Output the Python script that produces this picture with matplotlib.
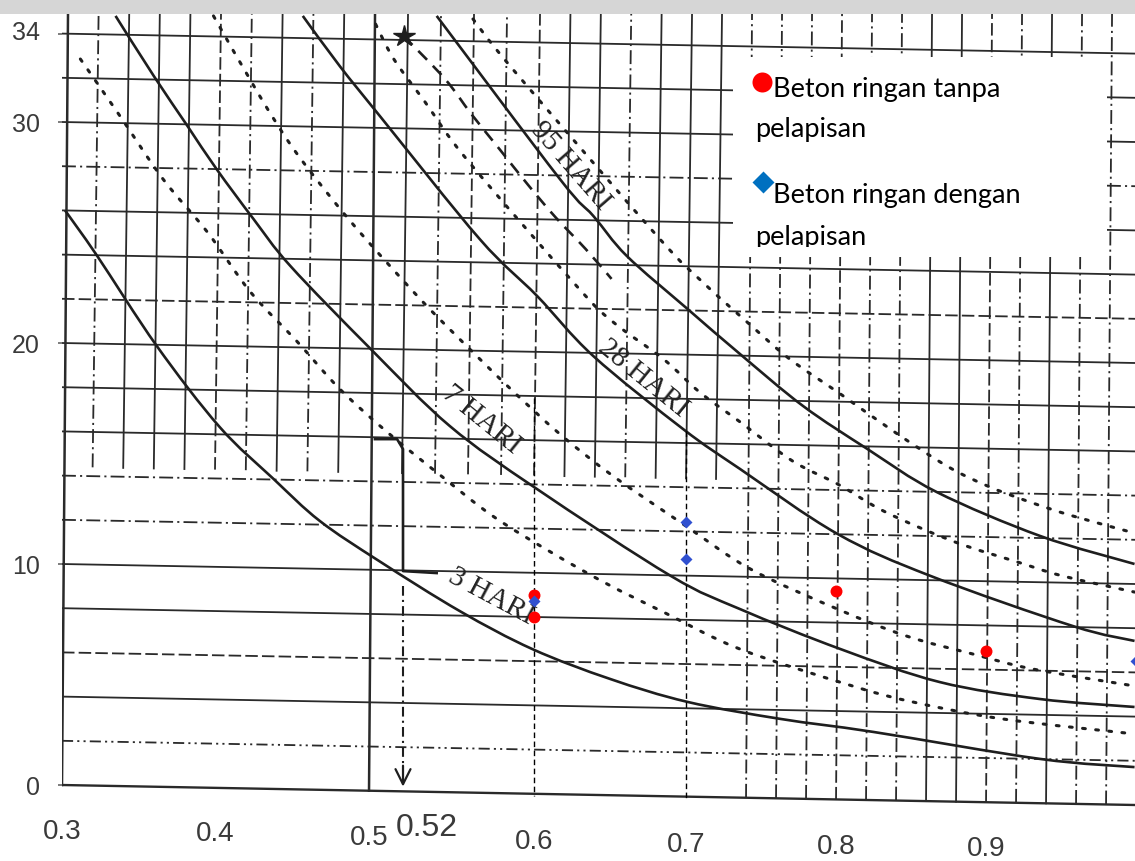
import numpy as np
import matplotlib
matplotlib.use("Agg")
import matplotlib.pyplot as plt
from matplotlib.patches import Rectangle, PathPatch
from matplotlib.path import Path
from matplotlib.transforms import ScaledTranslation, Bbox, TransformedBbox

plt.rcParams['lines.scale_dashes'] = False

# ---------------- data ----------------
# x = faktor air semen, y = kuat tekan
hari3_x = [0.302, 0.323, 0.362, 0.403, 0.438, 0.468, 0.506, 0.555, 0.599, 0.650, 0.701, 0.763, 0.825, 0.936, 0.999]
hari3_y = [26.0, 23.94, 19.86, 16.2, 13.85, 11.95, 10.14, 7.87, 6.15, 4.80, 3.76, 2.99, 2.40, 1.18, 0.81]
hari7_x = [0.335, 0.360, 0.382, 0.401, 0.425, 0.449, 0.501, 0.549, 0.602, 0.690, 0.736, 0.803, 0.869, 0.936, 0.999]
hari7_y = [34.80, 32.08, 29.82, 27.87, 25.61, 23.48, 19.73, 16.24, 13.39, 9.46, 7.96, 6.15, 4.66, 3.89, 3.53]
hari28_x = [0.457, 0.481, 0.507, 0.567, 0.602, 0.639, 0.698, 0.736, 0.801, 0.863, 0.958, 0.999]
hari28_y = [34.80, 32.53, 30.23, 24.71, 22.13, 19.41, 16.11, 14.30, 11.36, 9.46, 7.19, 6.52]
hari95_x = [0.541, 0.617, 0.639, 0.661, 0.701, 0.736, 0.778, 0.821, 0.867, 0.936, 0.999]
hari95_y = [34.80, 27.42, 25.75, 23.94, 21.54, 19.50, 17.15, 15.20, 13.26, 11.27, 10.00]

dot3_x = [0.312, 0.337, 0.366, 0.395, 0.423, 0.453, 0.481, 0.511, 0.543, 0.575, 0.611, 0.648, 0.685, 0.736, 0.811, 0.851, 0.911, 0.999]
dot3_y = [32.85, 30.36, 27.42, 25.02, 22.31, 20.09, 17.92, 15.97, 14.03, 12.17, 10.54, 9.10, 7.83, 6.15, 4.48, 3.76, 2.99, 2.31]
dot7_x = [0.399, 0.429, 0.451, 0.477, 0.499, 0.531, 0.553, 0.584, 0.617, 0.652, 0.698, 0.743, 0.801, 0.847, 0.891, 0.931, 0.999]
dot7_y = [34.80, 31.18, 28.78, 26.43, 24.62, 21.99, 20.32, 18.05, 15.88, 13.98, 11.81, 9.77, 7.96, 6.74, 5.93, 5.25, 4.48]
dot28_x = [0.504, 0.515, 0.534, 0.559, 0.628, 0.652, 0.685, 0.709, 0.736, 0.771, 0.801, 0.829, 0.858, 0.887, 0.921, 0.951, 0.999]
dot28_y = [34.43, 32.85, 30.90, 28.33, 22.58, 20.95, 19.28, 17.78, 16.43, 14.66, 13.62, 12.49, 11.58, 10.81, 10.09, 9.46, 8.73]
dot95_x = [0.563, 0.587, 0.681, 0.711, 0.743, 0.769, 0.803, 0.838, 0.874, 0.901, 0.929, 0.958, 0.999]
dot95_y = [34.66, 32.40, 24.84, 22.76, 20.81, 19.28, 17.69, 16.02, 14.43, 13.53, 12.81, 12.17, 11.40]

hand_x = [0.521, 0.546, 0.562, 0.579, 0.596, 0.614, 0.634, 0.651]
hand_y = [33.89, 31.95, 30.36, 28.78, 27.19, 25.70, 24.25, 22.90]

bracket_x = [0.5036, 0.517, 0.5206, 0.5206, 0.541]
bracket_y = [15.65, 15.65, 15.2, 9.68, 9.59]
wc_target = 0.5206
wc_arrow_top = 9.0

curve_labels = ['3 HARI', '7 HARI', '28 HARI', '95 HARI']
label_x = [0.5740, 0.5679, 0.6717, 0.6243]
label_y = [8.55, 16.56, 18.46, 28.05]
label_rot = [-28, -39, -39, -49]

series_labels = ['Beton ringan tanpa pelapisan', 'Beton ringan dengan pelapisan']
red_x = [0.6, 0.6, 0.8, 0.9]
red_y = [8.60, 7.60, 8.78, 6.06]
blue_x = [0.6, 0.7, 0.7, 1.0]
blue_y = [8.33, 11.90, 10.23, 5.61]
drop_x = [0.6, 0.7]
drop_top = [17.5, 16.0]

xticks = [0.3, 0.4, 0.5, 0.52, 0.6, 0.7, 0.8, 0.9]
xticklabels = ['0.3', '0.4', '0.5', '0.52', '0.6', '0.7', '0.8', '0.9']
yticks = [0, 10, 20, 30, 34]
yticklabels = ['0', '10', '20', '30', '34']

# ---------------- scanned (non-uniform) x scale ----------------
XK = [0.2, 0.3, 0.4, 0.5, 0.6, 0.7, 0.8, 0.9, 1.0, 1.1]
PK = [-91, 62, 215, 369, 534, 686, 836, 986, 1136, 1286]
def fwd(x):
    return np.interp(np.asarray(x, float), XK, PK)
def inv(p):
    return np.interp(np.asarray(p, float), PK, XK)

W, H = 1135, 862
fig = plt.figure(figsize=(W / 100, H / 100), dpi=100)
fig.patch.set_facecolor('white')
fig.patches.append(Rectangle((0, 1 - 15 / H), 1, 15 / H, transform=fig.transFigure,
                             facecolor='#d6d6d6', edgecolor='none', zorder=0))
ax = fig.add_axes([62 / W, (H - 808) / H, 1073 / W, 793 / H])
ax.set_xscale('function', functions=(fwd, inv))
XMIN, XMAX = 0.3, 0.9993
YMIN, YMAX = -22 / 22.1, 771 / 22.1
ax.set_xlim(XMIN, XMAX)
ax.set_ylim(YMIN, YMAX)
for s in ax.spines.values():
    s.set_visible(False)

INK = '#1e1e1e'
GRID = '#2a2a2a'
TILT = 0.905      # scan skew: horizontal lines drop this much across the width

def zline(x):
    return -TILT * (fwd(x) - fwd(XMIN)) / (fwd(XMAX) - fwd(XMIN))

def smooth_curve(xs, ys, **kw):
    """Smooth (Catmull-Rom) path through the read points, drawn in scaled space."""
    P = np.column_stack([fwd(xs), np.asarray(ys, float)])
    n = len(P)
    verts, codes = [P[0]], [Path.MOVETO]
    for i in range(n - 1):
        p0 = P[i - 1] if i > 0 else P[i]
        p1, p2 = P[i], P[i + 1]
        p3 = P[i + 2] if i + 2 < n else P[i + 1]
        verts += [p1 + (p2 - p0) / 6, p2 - (p3 - p1) / 6, p2]
        codes += [Path.CURVE4] * 3
    patch = PathPatch(Path(verts, codes), transform=ax.transLimits + ax.transAxes,
                      fill=False, **kw)
    ax.add_patch(patch)
    return patch

styles = {'s': '-', 'd': (0, (9, 3)), 'dd': (0, (10, 3, 1.5, 3)),
          'ddd': (0, (8, 3, 1.5, 3, 1.5, 3))}

# horizontal grid lines
h_levels = np.arange(0, 35, 2)
h_style = ['s', 'ddd', 's', 'd', 's', 's', 'dd', 'dd', 's', 's', 's', 'd', 's', 's', 'dd', 's', 's', 's']
for lev, st in zip(h_levels, h_style):
    lw = 1.7 if lev == 0 else 1.3
    ax.plot([XMIN, XMAX], [lev, lev - TILT], color=GRID, lw=lw, ls=styles[st], zorder=1)

# vertical grid lines
v_levels = np.round(np.arange(0.30, 0.99, 0.02), 2)
v_style = ['s', 'dd', 's', 's', 's', 'd', 'dd', 's', 'dd', 's', 's', 's', 'dd', 'd', 'dd', 'd',
           's', 's', 'dd', 's', 's', 's', 'dd', 'dd', 'dd', 'd', 'dd', 'dd', 's', 's', 'd', 'dd',
           's', 'dd', 'dd']
for xv, st in zip(v_levels, v_style):
    full = xv in (0.3, 0.5) or xv >= 0.739
    ybot = zline(xv) if full else 14.4 + zline(xv)
    xtop = inv(fwd(xv) + 6)
    lw = 1.8 if xv in (0.3, 0.5) else 1.3
    ax.plot([xv, xtop], [ybot, YMAX], color=GRID, lw=lw, ls=styles[st], zorder=1)

# curves
for cx, cy in [(hari3_x, hari3_y), (hari7_x, hari7_y), (hari28_x, hari28_y), (hari95_x, hari95_y)]:
    smooth_curve(cx, cy, edgecolor=INK, lw=1.9, zorder=3)
for cx, cy in [(dot3_x, dot3_y), (dot7_x, dot7_y), (dot28_x, dot28_y), (dot95_x, dot95_y)]:
    smooth_curve(cx, cy, edgecolor=INK, lw=2.2, linestyle=(0, (2.0, 7.5)), capstyle='round', zorder=3)
smooth_curve(hand_x, hand_y, edgecolor=INK, lw=1.9, linestyle=(0, (9, 6)), zorder=3)
ax.plot([hand_x[0]], [hand_y[0]], marker='*', ms=16, color=INK, zorder=3)

# 0.52 annotation
ax.plot(bracket_x, bracket_y, color=INK, lw=1.9, zorder=3, solid_joinstyle='round')
ax.plot([wc_target, wc_target], [wc_arrow_top, 0.9], color=INK, lw=1.5, ls=(0, (7, 3, 1.5, 3)), zorder=3)
ax.annotate('', xy=(wc_target, -0.2), xytext=(wc_target, 1.0),
            arrowprops=dict(arrowstyle='->', lw=1.6, color=INK, mutation_scale=27), zorder=3)

# curve labels
for t, lx, ly, r in zip(curve_labels, label_x, label_y, label_rot):
    ax.text(lx, ly, t, rotation=r, rotation_mode='anchor', ha='center', va='center',
            fontsize=21, family='Liberation Serif', color='#222222', zorder=4)

# drop lines
for dx_, dt in zip(drop_x, drop_top):
    ax.plot([dx_, dx_], [dt, zline(dx_) - 0.1], color='black', lw=1.0, ls=(0, (4, 2.5)), zorder=5)

# data points
RED = '#FF0000'
BLUE_PT = '#3050D0'
BLUE_LG = '#0070C0'
ax.plot(red_x, red_y, 'o', color=RED, ms=8.6, mec='none', zorder=6)
ax.plot(blue_x, blue_y, 'D', color=BLUE_PT, ms=6.2, mec='none', zorder=7)

# legend
ax.add_patch(Rectangle((0.6254, 0.6936), 0.3485, 0.2522, transform=ax.transAxes,
                       facecolor='white', edgecolor='none', zorder=10))
lg_font = dict(family='Lato', fontsize=19.5, color='black', va='baseline', zorder=11,
               transform=ax.transAxes)
l1a, l1b = series_labels[0].rsplit(' ', 1)
l2a, l2b = series_labels[1].rsplit(' ', 1)
ax.plot([0.6524], [0.9142], 'o', color=RED, ms=14.4, mec='none', transform=ax.transAxes,
        zorder=11, clip_on=False)
ax.text(0.6626, 0.8966, l1a, **lg_font)
ax.text(0.6459, 0.8462, l1b, **lg_font)
ax.plot([0.6533], [0.7881], 'D', color=BLUE_LG, ms=10.7, mec='none', transform=ax.transAxes,
        zorder=11, clip_on=False)
ax.text(0.6626, 0.7629, l2a, **lg_font)
t_last = ax.text(0.6459, 0.7100, l2b, **lg_font)
t_last.set_clip_box(TransformedBbox(Bbox([[0.6, 0.7062], [1.0, 1.0]]), ax.transAxes))
t_last.set_clip_on(True)

# ticks
ax.set_xticks(xticks)
ax.set_xticklabels(xticklabels)
ax.tick_params(axis='x', length=0, pad=17.3, labelcolor='#3a3a3a', labelsize=20)
x_dy = [0, -2, -6, 4, -10, -13, -15, -17]
x_dx = [0, 0, 0, 25, 0, 0, 0, 0]
for lab, dy, dx, txt in zip(ax.get_xticklabels(), x_dy, x_dx, xticklabels):
    lab.set_family('Liberation Sans')
    lab.set_va('center')
    if txt == '0.52':
        lab.set_fontsize(23)
    lab.set_transform(lab.get_transform() + ScaledTranslation(dx / 100, dy / 100, fig.dpi_scale_trans))

ax.set_yticks(yticks)
ax.set_yticklabels(yticklabels)
ax.tick_params(axis='y', length=3, width=1.2, color='#666666', pad=13, labelcolor='#3a3a3a',
               labelsize=18)
for lab, txt in zip(ax.get_yticklabels(), yticklabels):
    lab.set_family('Liberation Sans')
    if txt == '34':
        lab.set_transform(lab.get_transform() + ScaledTranslation(0, 4 / 100, fig.dpi_scale_trans))

fig.savefig('out.png', dpi=100)
